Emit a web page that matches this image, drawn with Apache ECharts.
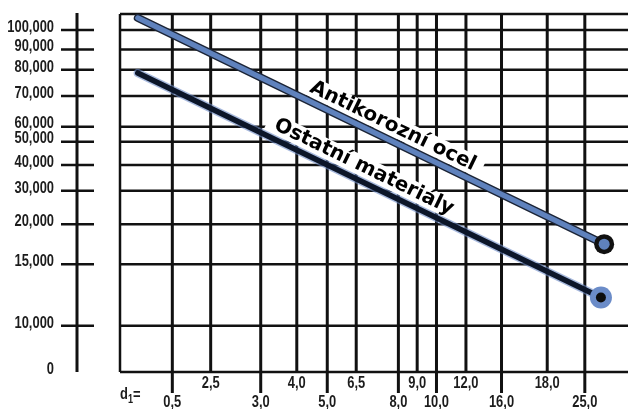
<!DOCTYPE html>
<html>
<head>
<meta charset="UTF-8">
<title>Nomogram</title>
<script src="https://cdn.jsdelivr.net/npm/echarts@6/dist/echarts.min.js"></script>
<style>html,body{margin:0;padding:0;background:#fff;}</style>
</head>
<body>
<div id="main" style="width:628px;height:409px;"></div>
<script type="text/javascript">
// values
var d1Values = [0.5, 2.5, 3, 4, 5, 6.5, 8, 9, 10, 12, 16, 18, 25];
var d1Labels = ['0,5', '2,5', '3,0', '4,0', '5,0', '6,5', '8,0', '9,0', '10,0', '12,0', '16,0', '18,0', '25,0'];
var loadValues = [0, 10000, 15000, 20000, 30000, 40000, 50000, 60000, 70000, 80000, 90000, 100000];
var loadLabels = ['0', '10,000', '15,000', '20,000', '30,000', '40,000', '50,000', '60,000', '70,000', '80,000', '90,000', '100,000'];
var lineNames = ['Antikorozní ocel', 'Ostatní materiály'];
// [d1, load] at start and end of each line
var antikorozniOcel = [[0.17, 106300], [28.6, 17500]];
var ostatniMaterialy = [[0.17, 78800], [28.0, 12300]];

// nomogram scales: value -> position on the axis (0..100)
var d1Scale = [[0, 0], [0.5, 10.3], [2.5, 17.85], [3, 27.7], [4, 34.8], [5, 40.8], [6.5, 46.5],
  [8, 54.8], [9, 58.5], [10, 62.3], [12, 68.1], [16, 75.1], [18, 84.1], [25, 91.5]];
var loadScale = [[0, 0], [10000, 12.9], [15000, 30.1], [20000, 41.3], [30000, 50.6], [40000, 57.8],
  [50000, 64.3], [60000, 68.5], [70000, 77.1], [80000, 84.4], [90000, 90.1], [100000, 95.5]];

function scale(table, v) {
  var n = table.length, i = 1;
  while (i < n - 1 && v > table[i][0]) i++;
  var a = table[i - 1], b = table[i];
  return a[1] + (v - a[0]) * (b[1] - a[1]) / (b[0] - a[0]);
}

// condensed look: Liberation Sans squeezed horizontally
var labelFont = '"Liberation Sans", Arial, sans-serif';
var squeeze = 0.76;
var inkColor = '#1c1c1c';
var gridColor = '#111';

var lineStyles = [
  {outer: '#1b2436', outerW: 8, outerOpacity: 1, inner: '#5f82bd', innerW: 5.2, ring: '#111', ringR: 10, dot: '#5f82bd', dotR: 5.5, t: 0.534},
  {outer: '#6c8bc6', outerW: 8.5, outerOpacity: 0.6, inner: '#0c1629', innerW: 5.5, ring: '#6b8cc8', ringR: 11, dot: '#0d0d0d', dotR: 5, t: 0.475}
];

var myChart = echarts.init(document.getElementById('main'));

function labelText(x, y, text, align) {
  return {type: 'text', x: x, y: y, scaleX: squeeze,
    style: {text: text, fontFamily: labelFont, fontWeight: 'bold', fontSize: 17,
      fill: inkColor, align: align, verticalAlign: 'middle'}};
}

function renderVertical(params, api) {
  var i = api.value(1);
  var top = api.coord([api.value(0), 100]);
  var bot = api.coord([api.value(0), 0]);
  var longTick = i % 2 === 0;
  return {
    type: 'group',
    children: [
      {type: 'line', shape: {x1: top[0], y1: top[1], x2: bot[0], y2: bot[1] + (longTick ? 21 : 0)},
        style: {stroke: gridColor, lineWidth: 3}},
      labelText(bot[0], bot[1] + (longTick ? 30.5 : 11.5), d1Labels[i], 'center')
    ]
  };
}

function renderHorizontal(params, api) {
  var i = api.value(1);
  var cs = params.coordSys;
  var p = api.coord([0, api.value(0)]);
  var children = [
    {type: 'line', shape: {x1: cs.x, y1: p[1], x2: cs.x + cs.width, y2: p[1]},
      style: {stroke: gridColor, lineWidth: 2.5}},
    labelText(cs.x - 66, p[1] - 3, loadLabels[i], 'right')
  ];
  if (i > 0) {
    children.push({type: 'line', shape: {x1: cs.x - 59, y1: p[1], x2: cs.x - 26, y2: p[1]},
      style: {stroke: gridColor, lineWidth: 2.5}});
  } else {
    // frame and the separate left axis
    children.push({type: 'line', shape: {x1: cs.x, y1: cs.y, x2: cs.x + cs.width, y2: cs.y},
      style: {stroke: gridColor, lineWidth: 2.5}});
    children.push({type: 'line', shape: {x1: cs.x, y1: cs.y, x2: cs.x, y2: cs.y + cs.height},
      style: {stroke: gridColor, lineWidth: 2.5}});
    children.push({type: 'line', shape: {x1: cs.x - 43, y1: cs.y - 1, x2: cs.x - 43, y2: cs.y + cs.height},
      style: {stroke: gridColor, lineWidth: 3}});
  }
  return {type: 'group', children: children};
}

function renderLines(params, api) {
  var i = params.dataIndex;
  var s = lineStyles[i];
  var a = api.coord([api.value(0), api.value(1)]);
  var b = api.coord([api.value(2), api.value(3)]);
  var dx = b[0] - a[0], dy = b[1] - a[1];
  var len = Math.sqrt(dx * dx + dy * dy);
  var nx = dy / len, ny = -dx / len;
  var cx = a[0] + dx * s.t + nx * 14, cy = a[1] + dy * s.t + ny * 14;
  return {
    type: 'group',
    children: [
      {type: 'text', x: cx, y: cy, rotation: -Math.atan2(dy, dx), z2: 1,
        style: {text: lineNames[i], fontFamily: 'DejaVu Sans', fontWeight: 'bold', fontSize: 20,
          fill: '#000', align: 'center', verticalAlign: 'middle', backgroundColor: '#fff', padding: [0, 8]}},
      {type: 'line', z2: 5, shape: {x1: a[0], y1: a[1], x2: b[0], y2: b[1]},
        style: {stroke: s.outer, lineWidth: s.outerW, lineCap: 'round', opacity: s.outerOpacity}},
      {type: 'line', z2: 6, shape: {x1: a[0], y1: a[1], x2: b[0], y2: b[1]},
        style: {stroke: s.inner, lineWidth: s.innerW, lineCap: 'round'}},
      {type: 'circle', z2: 7, shape: {cx: b[0], cy: b[1], r: s.ringR}, style: {fill: s.ring}},
      {type: 'circle', z2: 8, shape: {cx: b[0], cy: b[1], r: s.dotR}, style: {fill: s.dot}}
    ]
  };
}

var verticalData = d1Values.map(function (v, i) { return [scale(d1Scale, v), i]; });
var horizontalData = loadValues.map(function (v, i) { return [scale(loadScale, v), i]; });
var lineData = [antikorozniOcel, ostatniMaterialy].map(function (l) {
  return [scale(d1Scale, l[0][0]), scale(loadScale, l[0][1]), scale(d1Scale, l[1][0]), scale(loadScale, l[1][1])];
});

var option = {
  animation: false,
  backgroundColor: '#fff',
  grid: {left: 120, right: 0, top: 14, bottom: 37},
  xAxis: {type: 'value', min: 0, max: 100, show: false},
  yAxis: {type: 'value', min: 0, max: 100, show: false},
  graphic: [{
    type: 'group', left: 120, top: 386, scaleX: squeeze,
    children: [
      {type: 'text', x: 0, y: 0, style: {text: 'd', fontFamily: labelFont, fontWeight: 'bold', fontSize: 17, fill: inkColor}},
      {type: 'text', x: 10.5, y: 8, style: {text: '1', fontFamily: labelFont, fontWeight: 'bold', fontSize: 12, fill: inkColor}},
      {type: 'text', x: 17, y: 1, style: {text: '=', fontFamily: labelFont, fontWeight: 'bold', fontSize: 17, fill: inkColor}}
    ]
  }],
  series: [
    {type: 'custom', silent: true, clip: false, renderItem: renderHorizontal, data: horizontalData, z: 1},
    {type: 'custom', silent: true, clip: false, renderItem: renderVertical, data: verticalData, z: 2},
    {type: 'custom', silent: true, clip: false, renderItem: renderLines, data: lineData, z: 3}
  ]
};
myChart.setOption(option);
</script>
</body>
</html>
